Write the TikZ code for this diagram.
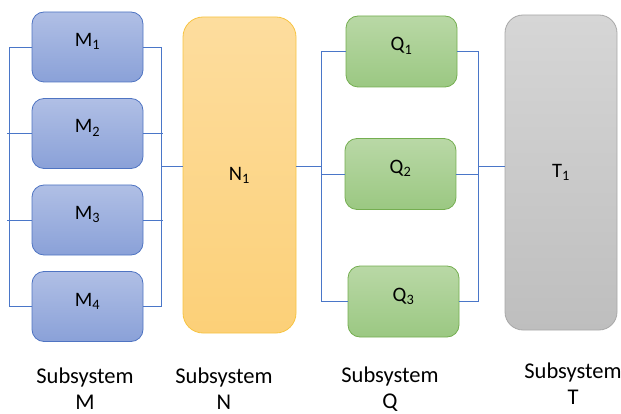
\documentclass[tikz,border=0pt]{standalone}
\usepackage{fontspec}
\setmainfont{Carlito}
\usetikzlibrary{positioning}
\definecolor{busblue}{HTML}{4A76C8}
\definecolor{mline}{HTML}{4F74C2}
\definecolor{mtop}{HTML}{B0BFE5}
\definecolor{mbot}{HTML}{8AA1D8}
\definecolor{nline}{HTML}{F7C443}
\definecolor{ntop}{HTML}{FDDD9E}
\definecolor{nbot}{HTML}{FCD078}
\definecolor{qline}{HTML}{74AE50}
\definecolor{qtop}{HTML}{B9D8A6}
\definecolor{qbot}{HTML}{9BC882}
\definecolor{tline}{HTML}{A8A8A8}
\definecolor{ttop}{HTML}{D6D6D6}
\definecolor{tbot}{HTML}{BEBEBE}

\begin{document}
\begin{tikzpicture}[x=1pt,y=-1pt,node distance=86.5pt,on grid,
                box/.style={rectangle,draw,line width=0.8pt,font=\fontsize{20.5}{22}\selectfont},
                upper/.style={text height=13pt,text depth=14pt},
                mbox/.style={box,upper,rounded corners=12pt,minimum width=111pt,minimum height=70pt,draw=mline,top color=mtop,bottom color=mbot},
                nbox/.style={box,rounded corners=20pt,minimum width=113pt,minimum height=316pt,draw=nline,top color=ntop,bottom color=nbot},
                qbox/.style={box,upper,rounded corners=12pt,minimum width=111pt,minimum height=71pt,draw=qline,top color=qtop,bottom color=qbot},
                tbox/.style={box,rounded corners=18pt,minimum width=112pt,minimum height=315pt,draw=tline,top color=ttop,bottom color=tbot},
                bus/.style={draw=busblue,line width=0.9pt},
                sub/.style={align=center,inner sep=0pt,font=\fontsize{22.5}{26}\selectfont}]
                \useasboundingbox (0,0) rectangle (621,414);
                \node[mbox] (M1) at (87.5,47) {M\textsubscript{1}};
                \node[mbox] [below=of M1] (M2) {M\textsubscript{2}};
                \node[mbox] [below=of M2] (M3) {M\textsubscript{3}};
                \node[mbox] [below=of M3] (M4) {M\textsubscript{4}};
                \node[nbox] (N1) at (239.5,175) {N\textsubscript{1}};
                \node[qbox] (Q1) at (401.5,51.5) {Q\textsubscript{1}};
                \node[qbox] (Q2) at (400.5,174) {Q\textsubscript{2}};
                \node[qbox] (Q3) at (403.5,301.5) {Q\textsubscript{3}};
                \node[tbox] (T1) at (561,172.5) {T\textsubscript{1}};
                \coordinate (mout) at (161,166);
                \coordinate (qin) at (322,166);
                \coordinate (qout) at (478,166);
                \draw[bus] (M1.west) -- ++(-22,0) |- (M4.west);
                \draw[bus] (M1.east) -- ++(18,0) |- (M4.east);
                \draw[bus] (Q1.west) -- ++(-24,0) |- (Q3.west);
                \draw[bus] (Q1.east) -- ++(21,0) |- (Q3.east);
                \path[bus]
                (M2.west) edge ++(-25,0)
                (M3.west) edge ++(-25,0)
                (M2.east) edge ++(20,0)
                (M3.east) edge ++(20,0)
                (mout) edge (mout -| N1.west)
                (qin -| N1.east) edge (qin)
                (Q2.west) edge (Q2.west -| qin)
                (Q2.east) edge (Q2.east -| qout)
                (qout) edge (qout -| T1.west);
                \node[sub] (subM) at (85,389) {Subsystem\\M};
                \node[sub] (subN) at (224,389) {Subsystem\\N};
                \node[sub] (subQ) at (390,389) {Subsystem\\Q};
                \node[sub] (subT) at (573,384) {Subsystem\\T};
            \end{tikzpicture}
\end{document}
